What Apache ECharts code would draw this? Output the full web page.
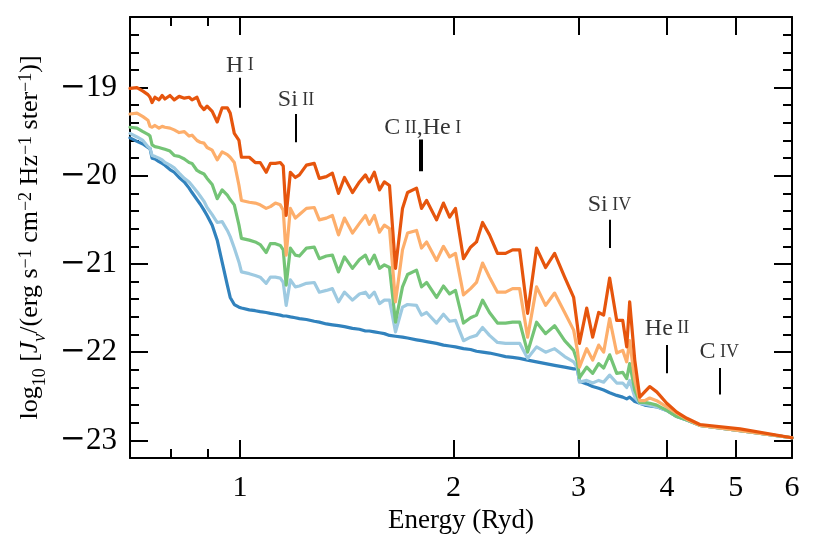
<!DOCTYPE html>
<html><head><meta charset="utf-8">
<script src="https://cdn.jsdelivr.net/npm/echarts@6/dist/echarts.min.js"></script>
<style>html,body{margin:0;padding:0;background:#fff}#c{width:817px;height:545px}</style>
</head><body><div id="c"></div>
<script>
// Energy grid (Ryd)
const energy = [
 0.700,0.716,0.730,0.742,0.747,0.752,0.759,0.769,0.777,0.784,
 0.797,0.808,0.821,0.835,0.848,0.856,0.870,0.879,0.890,0.899,
 0.914,0.929,0.944,0.960,0.969,0.982,0.997,1.005,1.031,1.051,
 1.068,1.089,1.104,1.122,1.140,1.151,1.162,1.178,1.197,1.213,
 1.241,1.273,1.294,1.324,1.350,1.377,1.404,1.441,1.474,1.503,
 1.522,1.547,1.573,1.598,1.625,1.657,1.695,1.723,1.774,1.803,
 1.833,1.893,1.936,1.975,2.013,2.066,2.114,2.155,2.198,2.248,
 2.307,2.368,2.423,2.479,2.544,2.619,2.697,2.777,2.869,2.954,
 2.990,3.010,3.082,3.142,3.204,3.256,3.320,3.397,3.464,3.509,
 3.543,3.602,3.661,3.720,3.781,3.868,3.996,4.128,4.265,4.449,
 5.07,6.0];

// log10 J_nu for each model
const darkBlue = [
 -19.57,-19.61,-19.64,-19.68,-19.69,-19.80,-19.81,-19.84,-19.86,-19.88,
 -19.93,-19.96,-20.02,-20.07,-20.14,-20.19,-20.27,-20.32,-20.39,-20.45,
 -20.56,-20.73,-20.98,-21.24,-21.38,-21.46,-21.49,-21.50,-21.52,-21.53,
 -21.54,-21.55,-21.56,-21.57,-21.58,-21.59,-21.59,-21.60,-21.61,-21.62,
 -21.63,-21.65,-21.66,-21.68,-21.69,-21.70,-21.71,-21.73,-21.74,-21.76,
 -21.76,-21.77,-21.78,-21.79,-21.81,-21.82,-21.83,-21.84,-21.86,-21.87,
 -21.88,-21.90,-21.92,-21.93,-21.94,-21.96,-21.97,-21.99,-22.00,-22.01,
 -22.03,-22.05,-22.06,-22.07,-22.09,-22.11,-22.13,-22.15,-22.17,-22.19,
 -22.19,-22.33,-22.36,-22.39,-22.41,-22.43,-22.46,-22.49,-22.51,-22.53,
 -22.51,-22.56,-22.58,-22.60,-22.61,-22.62,-22.66,-22.73,-22.77,-22.83,
 -22.89,-22.97];
const lightBlue = [
 -19.52,-19.56,-19.60,-19.67,-19.69,-19.77,-19.78,-19.80,-19.82,-19.85,
 -19.88,-19.91,-19.97,-20.03,-20.07,-20.11,-20.18,-20.23,-20.29,-20.36,
 -20.44,-20.53,-20.52,-20.62,-20.69,-20.82,-20.98,-21.09,-21.11,-21.13,
 -21.15,-21.22,-21.15,-21.15,-21.16,-21.21,-21.47,-21.18,-21.26,-21.25,
 -21.22,-21.21,-21.32,-21.30,-21.28,-21.43,-21.32,-21.41,-21.34,-21.32,
 -21.38,-21.32,-21.45,-21.41,-21.41,-21.77,-21.49,-21.46,-21.47,-21.58,
 -21.55,-21.67,-21.57,-21.65,-21.64,-21.87,-21.83,-21.81,-21.72,-21.81,
 -21.89,-21.90,-21.90,-21.90,-22.07,-21.94,-22.00,-21.96,-22.05,-22.11,
 -22.18,-22.34,-22.32,-22.35,-22.32,-22.34,-22.26,-22.35,-22.35,-22.40,
 -22.32,-22.51,-22.58,-22.59,-22.60,-22.62,-22.66,-22.73,-22.77,-22.83,
 -22.89,-22.97];
const green = [
 -19.45,-19.46,-19.50,-19.53,-19.55,-19.65,-19.67,-19.68,-19.69,-19.70,
 -19.72,-19.77,-19.78,-19.81,-19.85,-19.86,-19.94,-19.96,-19.98,-20.03,
 -20.10,-20.26,-20.16,-20.22,-20.27,-20.33,-20.56,-20.71,-20.73,-20.75,
 -20.78,-20.87,-20.77,-20.77,-20.79,-20.84,-21.24,-20.82,-20.90,-20.91,
 -20.82,-20.81,-20.94,-20.91,-20.90,-21.09,-20.92,-21.05,-20.95,-20.90,
 -21.00,-20.90,-21.05,-21.01,-21.04,-21.66,-21.26,-21.12,-21.07,-21.26,
 -21.21,-21.38,-21.25,-21.34,-21.30,-21.67,-21.61,-21.58,-21.41,-21.55,
 -21.67,-21.67,-21.66,-21.66,-22.00,-21.66,-21.79,-21.70,-21.87,-21.98,
 -22.11,-22.29,-22.17,-22.24,-22.13,-22.18,-22.03,-22.24,-22.23,-22.30,
 -22.13,-22.43,-22.57,-22.57,-22.58,-22.60,-22.66,-22.73,-22.77,-22.83,
 -22.89,-22.97];
const lightOrange = [
 -19.30,-19.29,-19.33,-19.37,-19.44,-19.45,-19.43,-19.46,-19.44,-19.45,
 -19.46,-19.48,-19.51,-19.50,-19.55,-19.54,-19.60,-19.62,-19.63,-19.68,
 -19.71,-19.82,-19.73,-19.76,-19.79,-19.85,-20.11,-20.28,-20.30,-20.31,
 -20.33,-20.37,-20.35,-20.31,-20.33,-20.39,-20.90,-20.37,-20.48,-20.44,
 -20.37,-20.36,-20.50,-20.48,-20.45,-20.67,-20.48,-20.65,-20.54,-20.45,
 -20.55,-20.45,-20.64,-20.56,-20.60,-21.43,-20.84,-20.65,-20.62,-20.82,
 -20.75,-20.96,-20.80,-20.92,-20.88,-21.35,-21.28,-21.21,-20.99,-21.15,
 -21.32,-21.32,-21.28,-21.28,-21.83,-21.26,-21.47,-21.33,-21.55,-21.75,
 -21.98,-22.17,-21.96,-22.09,-21.92,-22.00,-21.62,-22.01,-21.98,-22.11,
 -21.87,-22.32,-22.55,-22.55,-22.52,-22.55,-22.62,-22.69,-22.76,-22.83,
 -22.89,-22.97];
const darkOrange = [
 -19.01,-19.00,-19.04,-19.08,-19.11,-19.17,-19.11,-19.14,-19.09,-19.13,
 -19.09,-19.14,-19.10,-19.12,-19.11,-19.14,-19.11,-19.20,-19.25,-19.21,
 -19.27,-19.39,-19.23,-19.23,-19.29,-19.52,-19.60,-19.79,-19.79,-19.85,
 -19.85,-19.96,-19.86,-19.86,-19.85,-19.89,-20.45,-19.96,-20.02,-19.99,
 -19.88,-19.86,-20.03,-20.01,-19.97,-20.20,-20.02,-20.19,-20.07,-19.99,
 -20.07,-19.96,-20.16,-20.07,-20.11,-21.05,-20.37,-20.19,-20.14,-20.37,
 -20.28,-20.50,-20.31,-20.47,-20.37,-20.94,-20.81,-20.75,-20.53,-20.67,
 -20.88,-20.88,-20.84,-20.84,-21.56,-20.82,-21.04,-20.88,-21.15,-21.38,
 -21.70,-21.90,-21.50,-21.83,-21.55,-21.58,-21.16,-21.64,-21.64,-21.94,
 -21.43,-22.09,-22.51,-22.45,-22.39,-22.45,-22.58,-22.68,-22.75,-22.82,
 -22.87,-22.97];

// Ionization-edge annotations
const edgeEnergy = [1.0, 1.2, 1.792, 1.807, 3.318, 4.0, 4.74];
const edgeTop    = [-18.89, -19.30, -19.59, -19.59, -20.50, -21.92, -22.18];
const edgeBottom = [-19.23, -19.62, -19.95, -19.95, -20.82, -22.24, -22.48];
const labelEnergy = [1.0, 1.2, 1.81, 3.318, 4.0, 4.74];
const labelValue  = [-18.75, -19.14, -19.46, -20.33, -21.73, -22.00];
const labelText   = ['{n|H}{s| I}', '{n|Si}{s| II}', '{n|C}{s| II}{n|,He}{s| I}', '{n|Si}{s| IV}', '{n|He}{s| II}', '{n|C}{s| IV}'];

// Axis ticks
const xMajor = [1, 2, 3, 4, 5, 6];
const xMinor = [0.8, 0.9];

const FONT = "'Liberation Serif', 'DejaVu Serif', serif";
const BLACK = '#000';
const lineStyleAx = {color: BLACK, width: 2};

function xAxisCfg(pos, ticks, len, showLine, showLabel, extra) {
  return Object.assign({
    type: 'log', logBase: 10, min: 0.7, max: 6, position: pos,
    axisLine: {show: showLine, onZero: false, lineStyle: lineStyleAx},
    axisTick: {show: true, inside: true, length: len, lineStyle: {color: BLACK, width: 2}, customValues: ticks},
    axisLabel: {show: showLabel, customValues: ticks, margin: 15, fontSize: 30, fontFamily: FONT, color: BLACK,
                formatter: v => String(Math.round(v))},
    splitLine: {show: false}, minorTick: {show: false}, minorSplitLine: {show: false}
  }, extra || {});
}
function yAxisCfg(pos, showLabel, extra) {
  return Object.assign({
    type: 'value', min: -23.2, max: -18.2, splitNumber: 5, position: pos,
    axisLine: {show: true, onZero: false, lineStyle: lineStyleAx},
    axisTick: {show: true, inside: true, length: 18, lineStyle: {color: BLACK, width: 2}},
    minorTick: {show: true, splitNumber: 5, length: 9, lineStyle: {color: BLACK, width: 2}},
    axisLabel: {show: showLabel, showMinLabel: false, showMaxLabel: false, margin: 13,
      formatter: v => '{m|\u2212}{d|' + Math.abs(v) + '}',
      rich: {m: {fontFamily: "'DejaVu Serif', serif", fontSize: 31, color: BLACK},
             d: {fontFamily: FONT, fontSize: 31, color: BLACK}}},
    splitLine: {show: false}, minorSplitLine: {show: false}
  }, extra || {});
}

const yName = '{t|log}{sb|10}{t| [}{it|J}{sbi|\u03bd}{t|/(erg s}{sp|\u22121}{t| cm}{sp|\u22122}{t| Hz}{sp|\u22121}{t| ster}{sp|\u22121}{t|)]}';

function mk(name, vals, color, z) {
  return {
    name: name, type: 'line', xAxisIndex: 0, yAxisIndex: 0,
    data: energy.map((e, i) => [e, vals[i]]),
    showSymbol: false, symbol: 'none', smooth: false, z: z,
    lineStyle: {color: color, width: 3.2, join: 'round', cap: 'round'}, itemStyle: {color: color}
  };
}

const chart = echarts.init(document.getElementById('c'), null, {renderer: 'canvas'});
chart.setOption({
  animation: false,
  backgroundColor: '#fff',
  grid: {left: 130, right: 25, top: 17, bottom: 87, containLabel: false},
  xAxis: [
    xAxisCfg('bottom', xMajor, 18, true, true, {
      name: 'Energy (Ryd)', nameLocation: 'middle', nameGap: 45,
      nameTextStyle: {fontFamily: FONT, fontSize: 27, color: BLACK}}),
    xAxisCfg('bottom', xMinor, 9, false, false),
    xAxisCfg('top', xMajor, 18, true, false),
    xAxisCfg('top', xMinor, 9, false, false)
  ],
  yAxis: [
    yAxisCfg('left', true, {
      name: yName, nameLocation: 'middle', nameRotate: 90, nameGap: 85,
      nameTextStyle: {rich: {
        t: {fontFamily: FONT, fontSize: 26, color: BLACK, verticalAlign: 'bottom'},
        it: {fontFamily: FONT, fontSize: 26, fontStyle: 'italic', color: BLACK, verticalAlign: 'bottom'},
        sb: {fontFamily: FONT, fontSize: 18, color: BLACK, verticalAlign: 'bottom', padding: [0, 0, -6, 0]},
        sbi: {fontFamily: FONT, fontSize: 18, fontStyle: 'italic', color: BLACK, verticalAlign: 'bottom', padding: [0, 0, -6, 0]},
        sp: {fontFamily: FONT, fontSize: 18, color: BLACK, verticalAlign: 'top'}
      }}}),
    yAxisCfg('right', false)
  ],
  series: [
    mk('model 0', darkBlue, '#3182bd', 2),
    mk('model 1', lightBlue, '#9ecae1', 3),
    mk('model 2', green, '#74c476', 4),
    mk('model 3', lightOrange, '#fdae6b', 5),
    mk('model 4', darkOrange, '#e6550d', 6),
    {
      type: 'lines', coordinateSystem: 'cartesian2d', xAxisIndex: 0, yAxisIndex: 0, z: 10,
      data: edgeEnergy.map((e, i) => ({coords: [[e, edgeBottom[i]], [e, edgeTop[i]]]})),
      lineStyle: {color: BLACK, width: 2, opacity: 1}, symbol: ['none', 'none'], silent: true
    },
    {
      type: 'scatter', xAxisIndex: 0, yAxisIndex: 0, z: 10, symbolSize: 0,
      data: labelEnergy.map((e, i) => [e, labelValue[i], labelText[i]]),
      itemStyle: {color: 'rgba(0,0,0,0)'},
      label: {show: true, position: 'inside', formatter: p => p.data[2], textBorderWidth: 0,
        rich: {n: {fontFamily: FONT, fontSize: 24, color: BLACK, verticalAlign: 'middle'},
               s: {fontFamily: FONT, fontSize: 18, color: BLACK, verticalAlign: 'middle'}}},
      silent: true
    }
  ]
});
</script>
</body></html>
